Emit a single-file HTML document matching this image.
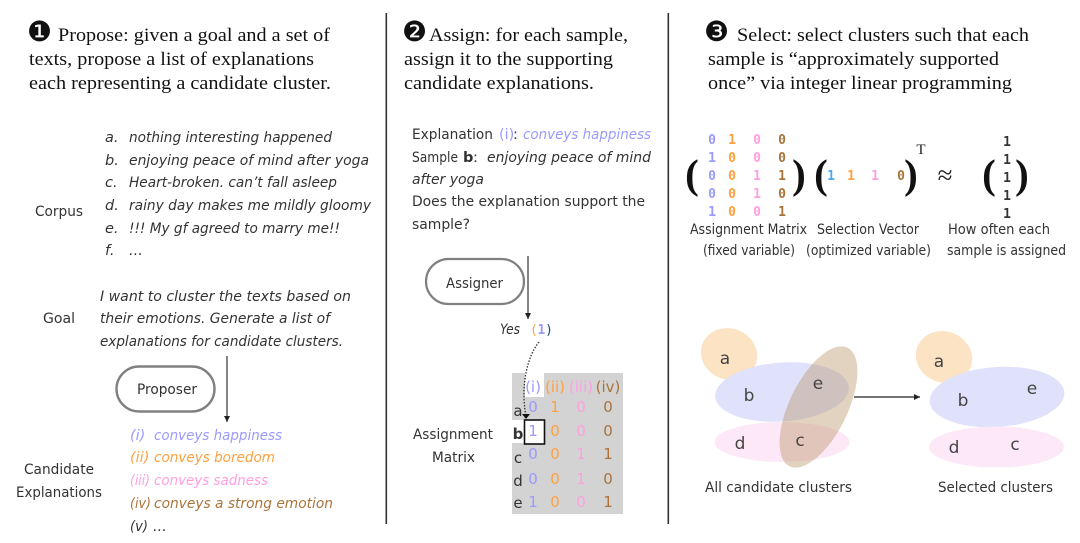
<!DOCTYPE html>
<html><head><meta charset="utf-8">
<style>
html,body{margin:0;padding:0;background:#fff;width:1080px;height:543px;overflow:hidden}
svg{display:block;filter:blur(.35px)}
.h{font:18.7px "Liberation Serif",serif;fill:#111}
.n{font:28px "DejaVu Sans",sans-serif;fill:#111}
.s{font:14.5px "DejaVu Sans",sans-serif;fill:#333}
.i{font:italic 14.5px "DejaVu Sans",sans-serif;fill:#333}
.l{font:14.5px "DejaVu Sans",sans-serif;fill:#333}
.m{font:bold 13px "DejaVu Sans Mono",monospace;text-anchor:middle}
.t{font:15px "DejaVu Sans",sans-serif;text-anchor:middle}
.c{font:17px "DejaVu Sans",sans-serif;fill:#444;text-anchor:middle}
.p{font:bold 41px "Liberation Serif",serif;fill:#111;text-anchor:middle}
.pu{fill:#9a9aff}.or{fill:#ffa040}.pk{fill:#ff9fe0}.br{fill:#a9743a}.bl{fill:#4aa8f0}.k{fill:#333}
</style></head><body>
<svg width="1080" height="543" viewBox="0 0 1080 543" xmlns="http://www.w3.org/2000/svg">
<defs><marker id="a" markerWidth="6" markerHeight="6" refX="5" refY="3" orient="auto"><path d="M0 .5L5 3L0 5.5Z" fill="#222"/></marker></defs>
<rect x="385.5" y="13" width="1.6" height="511" fill="#333"/>
<rect x="667.5" y="13" width="1.6" height="511" fill="#333"/>

<!-- Panel 1 -->
<text x="27" y="41" class="n">❶</text>
<text x="58" y="41" class="h" textLength="272" lengthAdjust="spacingAndGlyphs">Propose: given a goal and a set of</text>
<text x="29" y="65" class="h" textLength="285" lengthAdjust="spacingAndGlyphs">texts, propose a list of explanations</text>
<text x="29" y="89" class="h" textLength="302" lengthAdjust="spacingAndGlyphs">each representing a candidate cluster.</text>

<text x="105" y="142" class="i">a.</text><text x="129" y="142" class="i" textLength="203" lengthAdjust="spacingAndGlyphs">nothing interesting happened</text>
<text x="105" y="165" class="i">b.</text><text x="129" y="165" class="i" textLength="240" lengthAdjust="spacingAndGlyphs">enjoying peace of mind after yoga</text>
<text x="105" y="187" class="i">c.</text><text x="129" y="187" class="i" textLength="208" lengthAdjust="spacingAndGlyphs">Heart-broken. can’t fall asleep</text>
<text x="105" y="210" class="i">d.</text><text x="129" y="210" class="i" textLength="242" lengthAdjust="spacingAndGlyphs">rainy day makes me mildly gloomy</text>
<text x="105" y="233" class="i">e.</text><text x="129" y="233" class="i" textLength="211" lengthAdjust="spacingAndGlyphs">!!! My gf agreed to marry me!!</text>
<text x="105" y="255" class="i">f.</text><text x="129" y="255" class="i">...</text>
<text x="35" y="216" class="s" textLength="48" lengthAdjust="spacingAndGlyphs">Corpus</text>
<text x="43" y="323" class="s" textLength="32" lengthAdjust="spacingAndGlyphs">Goal</text>
<text x="100" y="301" class="i" textLength="251" lengthAdjust="spacingAndGlyphs">I want to cluster the texts based on</text>
<text x="100" y="323" class="i" textLength="230" lengthAdjust="spacingAndGlyphs">their emotions. Generate a list of</text>
<text x="100" y="346" class="i" textLength="243" lengthAdjust="spacingAndGlyphs">explanations for candidate clusters.</text>

<rect x="116.5" y="366.5" width="98" height="45" rx="22.5" fill="#fff" stroke="#808080" stroke-width="2.4"/>
<text x="137" y="394" class="s" textLength="60" lengthAdjust="spacingAndGlyphs">Proposer</text>
<line x1="227" y1="356" x2="227" y2="422" stroke="#333" stroke-width="1.2" marker-end="url(#a)"/>

<text x="130" y="440" class="i pu">(i)</text><text x="154" y="440" class="i pu" textLength="128" lengthAdjust="spacingAndGlyphs">conveys happiness</text>
<text x="130" y="462" class="i or">(ii)</text><text x="154" y="462" class="i or" textLength="121" lengthAdjust="spacingAndGlyphs">conveys boredom</text>
<text x="130" y="485" class="i pk" textLength="20" lengthAdjust="spacingAndGlyphs">(iii)</text><text x="154" y="485" class="i pk" textLength="114" lengthAdjust="spacingAndGlyphs">conveys sadness</text>
<text x="130" y="508" class="i br" textLength="21" lengthAdjust="spacingAndGlyphs">(iv)</text><text x="154" y="508" class="i br" textLength="179" lengthAdjust="spacingAndGlyphs">conveys a strong emotion</text>
<text x="130" y="531" class="i" textLength="18" lengthAdjust="spacingAndGlyphs">(v)</text><text x="153" y="531" class="i">...</text>
<text x="24" y="474" class="s" textLength="70" lengthAdjust="spacingAndGlyphs">Candidate</text>
<text x="16" y="497" class="s" textLength="86" lengthAdjust="spacingAndGlyphs">Explanations</text>

<!-- Panel 2 -->
<text x="402" y="41" class="n">❷</text>
<text x="429" y="41" class="h" textLength="199" lengthAdjust="spacingAndGlyphs">Assign: for each sample,</text>
<text x="404" y="65" class="h" textLength="209" lengthAdjust="spacingAndGlyphs">assign it to the supporting</text>
<text x="404" y="89" class="h" textLength="190" lengthAdjust="spacingAndGlyphs">candidate explanations.</text>

<text x="412" y="139" class="s" textLength="81" lengthAdjust="spacingAndGlyphs">Explanation</text>
<text x="499" y="139" class="s pu">(i)</text><text x="513" y="139" class="s">:</text>
<text x="523" y="139" class="i pu" textLength="128" lengthAdjust="spacingAndGlyphs">conveys happiness</text>
<text x="412" y="162" class="s" textLength="46" lengthAdjust="spacingAndGlyphs">Sample</text>
<text x="463" y="162" class="s" style="font-weight:bold">b</text><text x="473" y="162" class="s">:</text>
<text x="487" y="162" class="i" textLength="164" lengthAdjust="spacingAndGlyphs">enjoying peace of mind</text>
<text x="412" y="184" class="i" textLength="72" lengthAdjust="spacingAndGlyphs">after yoga</text>
<text x="412" y="206" class="s" textLength="233" lengthAdjust="spacingAndGlyphs">Does the explanation support the</text>
<text x="412" y="229" class="s" textLength="58" lengthAdjust="spacingAndGlyphs">sample?</text>

<rect x="426" y="259" width="98" height="45" rx="22.5" fill="#fff" stroke="#808080" stroke-width="2.2"/>
<text x="446" y="288" class="s" textLength="57" lengthAdjust="spacingAndGlyphs">Assigner</text>
<line x1="528" y1="256" x2="528" y2="319" stroke="#333" stroke-width="1.2" marker-end="url(#a)"/>
<text x="500" y="334" class="i" textLength="20" lengthAdjust="spacingAndGlyphs">Yes</text>
<text x="530" y="334" style="font:13px 'DejaVu Sans Mono',monospace;letter-spacing:-.3px"><tspan class="or">(</tspan><tspan class="pu" font-weight="bold">1</tspan><tspan fill="#1a4a80">)</tspan></text>

<rect x="512" y="373" width="111" height="141" fill="#d3d3d3"/>
<rect x="525" y="373" width="19" height="24" fill="#fff"/>
<rect x="512" y="420" width="13" height="23" fill="#fff"/>
<rect x="524.5" y="420" width="20" height="24" fill="#fff" stroke="#111" stroke-width="1.6"/>
<path d="M539 342C528 355 520 385 526 416" fill="none" stroke="#333" stroke-width="1.3" stroke-dasharray="1.5 1.5"/>
<path d="M522 414L530 414L526 419Z" fill="#111"/>
<text x="533" y="392" class="t pu">(i)</text><text x="555" y="392" class="t or">(ii)</text><text x="581" y="392" class="t pk">(iii)</text><text x="608" y="392" class="t br">(iv)</text>
<text x="518" y="416" class="t k">a</text><text x="518" y="439" class="t k" style="font-weight:bold">b</text><text x="518" y="463" class="t k">c</text><text x="518" y="486" class="t k">d</text><text x="518" y="508" class="t k">e</text>
<text x="533" y="412" class="t pu">0</text><text x="555" y="412" class="t or">1</text><text x="581" y="412" class="t pk">0</text><text x="608" y="412" class="t br">0</text>
<text x="533" y="436" class="t pu">1</text><text x="555" y="436" class="t or">0</text><text x="581" y="436" class="t pk">0</text><text x="608" y="436" class="t br">0</text>
<text x="533" y="459" class="t pu">0</text><text x="555" y="459" class="t or">0</text><text x="581" y="459" class="t pk">1</text><text x="608" y="459" class="t br">1</text>
<text x="533" y="484" class="t pu">0</text><text x="555" y="484" class="t or">0</text><text x="581" y="484" class="t pk">1</text><text x="608" y="484" class="t br">0</text>
<text x="533" y="507" class="t pu">1</text><text x="555" y="507" class="t or">0</text><text x="581" y="507" class="t pk">0</text><text x="608" y="507" class="t br">1</text>
<text x="413" y="439" class="s" textLength="80" lengthAdjust="spacingAndGlyphs">Assignment</text>
<text x="432" y="462" class="s" textLength="43" lengthAdjust="spacingAndGlyphs">Matrix</text>

<!-- Panel 3 -->
<text x="704" y="41" class="n">❸</text>
<text x="737" y="41" class="h" textLength="292" lengthAdjust="spacingAndGlyphs">Select: select clusters such that each</text>
<text x="708" y="65" class="h" textLength="291" lengthAdjust="spacingAndGlyphs">sample is “approximately supported</text>
<text x="708" y="89" class="h" textLength="304" lengthAdjust="spacingAndGlyphs">once” via integer linear programming</text>

<text x="692" y="188" class="p">(</text><text x="799" y="188" class="p">)</text>
<text x="821" y="188" class="p">(</text><text x="911" y="188" class="p">)</text>
<text x="989" y="188" class="p">(</text><text x="1022" y="188" class="p">)</text>
<text x="921" y="154" style="font:15px 'Liberation Serif',serif;text-anchor:middle;fill:#222">T</text>
<text x="945" y="184" style="font:27px 'Liberation Serif',serif;text-anchor:middle;fill:#222">≈</text>

<text x="712" y="144" class="m pu">0</text><text x="732" y="144" class="m or">1</text><text x="757" y="144" class="m pk">0</text><text x="782" y="144" class="m br">0</text>
<text x="712" y="162" class="m pu">1</text><text x="732" y="162" class="m or">0</text><text x="757" y="162" class="m pk">0</text><text x="782" y="162" class="m br">0</text>
<text x="712" y="180" class="m pu">0</text><text x="732" y="180" class="m or">0</text><text x="757" y="180" class="m pk">1</text><text x="782" y="180" class="m br">1</text>
<text x="712" y="198" class="m pu">0</text><text x="732" y="198" class="m or">0</text><text x="757" y="198" class="m pk">1</text><text x="782" y="198" class="m br">0</text>
<text x="712" y="216" class="m pu">1</text><text x="732" y="216" class="m or">0</text><text x="757" y="216" class="m pk">0</text><text x="782" y="216" class="m br">1</text>
<text x="831" y="180" class="m bl">1</text><text x="851" y="180" class="m or">1</text><text x="875" y="180" class="m pk">1</text><text x="901" y="180" class="m br">0</text>
<text x="1007" y="146" class="m k">1</text><text x="1007" y="164" class="m k">1</text><text x="1007" y="182" class="m k">1</text><text x="1007" y="200" class="m k">1</text><text x="1007" y="218" class="m k">1</text>

<text x="690" y="234" class="l" textLength="117" lengthAdjust="spacingAndGlyphs">Assignment Matrix</text>
<text x="817" y="234" class="l" textLength="102" lengthAdjust="spacingAndGlyphs">Selection Vector</text>
<text x="948" y="234" class="l" textLength="102" lengthAdjust="spacingAndGlyphs">How often each</text>
<text x="703" y="255" class="l" textLength="92" lengthAdjust="spacingAndGlyphs">(fixed variable)</text>
<text x="806" y="255" class="l" textLength="125" lengthAdjust="spacingAndGlyphs">(optimized variable)</text>
<text x="947" y="255" class="l" textLength="119" lengthAdjust="spacingAndGlyphs">sample is assigned</text>

<ellipse cx="729" cy="354" rx="28.5" ry="25.5" transform="rotate(20 729 354)" fill="#fbe3c3"/>
<ellipse cx="782" cy="392" rx="67" ry="29.5" transform="rotate(-4 782 392)" fill="#e0e2fb"/>
<ellipse cx="782" cy="442" rx="67.5" ry="20" fill="#fde8f7"/>
<ellipse cx="818.5" cy="407" rx="66" ry="29" transform="rotate(-64 818.5 407)" fill="#b48c5a" fill-opacity=".38"/>
<text x="725" y="364" class="c">a</text><text x="749" y="401" class="c">b</text><text x="818" y="389" class="c">e</text><text x="800" y="446" class="c">c</text><text x="740" y="449" class="c">d</text>
<line x1="854" y1="397" x2="920" y2="397" stroke="#222" stroke-width="1.2" marker-end="url(#a)"/>

<ellipse cx="944" cy="357" rx="28.5" ry="25.5" transform="rotate(20 944 357)" fill="#fbe3c3"/>
<ellipse cx="997" cy="397" rx="67.5" ry="30" transform="rotate(-4 997 397)" fill="#e0e2fb"/>
<ellipse cx="996.5" cy="447" rx="67.5" ry="20.5" fill="#fde8f7"/>
<text x="939" y="367" class="c">a</text><text x="963" y="406" class="c">b</text><text x="1032" y="394" class="c">e</text><text x="1015" y="450" class="c">c</text><text x="954" y="453" class="c">d</text>

<text x="705" y="492" class="l" textLength="147" lengthAdjust="spacingAndGlyphs">All candidate clusters</text>
<text x="938" y="492" class="l" textLength="115" lengthAdjust="spacingAndGlyphs">Selected clusters</text>
</svg>
</body></html>
